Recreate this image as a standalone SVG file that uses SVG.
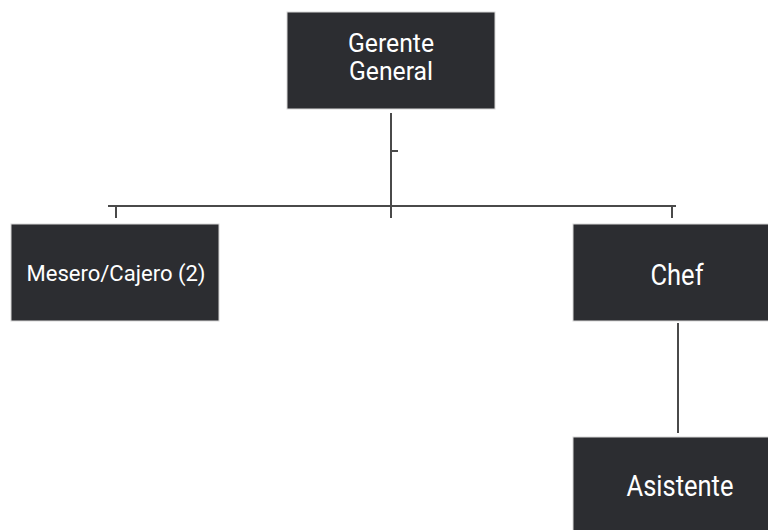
<svg xmlns="http://www.w3.org/2000/svg" width="768" height="530" viewBox="0 0 768 530">
<style>
.box{fill:#2c2d31;stroke:#d8d8d8;stroke-width:1}
.t{fill:#ffffff;font-family:Roboto,"Liberation Sans",sans-serif;text-anchor:middle}
.ln{stroke:#4a4a4a;stroke-width:2;fill:none}
</style>
<rect width="768" height="530" fill="#ffffff"/>
<g id="connectors">
<path class="ln" d="M391 113V218M391 151H398M108 206H676M116 206V218M672 206V218M678 323V433"/>
</g>
<g id="gerente">
<rect class="box" x="287" y="12" width="208" height="97"/>
<text class="t" font-size="25" transform="translate(391,0) scale(0.99,1)"><tspan x="0" y="52">Gerente</tspan><tspan x="0" y="80">General</tspan></text>
</g>
<g id="mesero">
<rect class="box" x="11" y="224" width="208" height="97"/>
<text class="t" font-size="22.5" transform="translate(116,281) scale(0.98,1)">Mesero/Cajero (2)</text>
</g>
<g id="chef">
<rect class="box" x="573" y="224" width="200" height="97"/>
<text class="t" font-size="30" transform="translate(677,285) scale(0.85,1)">Chef</text>
</g>
<g id="asistente">
<rect class="box" x="573" y="437" width="200" height="100"/>
<text class="t" font-size="30" transform="translate(680,496) scale(0.85,1)">Asistente</text>
</g>
</svg>
